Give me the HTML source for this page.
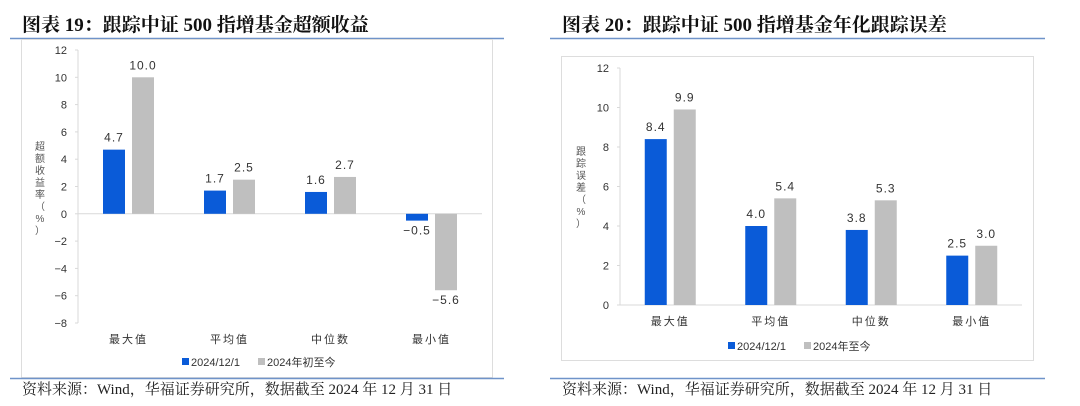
<!DOCTYPE html>
<html><head><meta charset="utf-8"><style>
body{margin:0;background:#fff;width:1080px;height:406px;overflow:hidden}
svg{display:block}
text{font-family:"Liberation Sans","Noto Sans CJK SC",sans-serif}
.t{font-family:"Liberation Serif","Noto Serif CJK SC",serif;font-weight:bold;font-size:19px;fill:#111}
.s{font-family:"Liberation Serif","Noto Serif CJK SC",serif;font-size:15px;fill:#222}
</style></head><body>
<svg id="c" width="1080" height="406">
<text class="t" x="22" y="31">图表 19：跟踪中证 500 指增基金超额收益</text>
<text class="t" x="562" y="31">图表 20：跟踪中证 500 指增基金年化跟踪误差</text>
<line x1="10" y1="38.5" x2="504" y2="38.5" stroke="#6f93c9" stroke-width="1.5"/>
<line x1="550" y1="38.5" x2="1045" y2="38.5" stroke="#6f93c9" stroke-width="1.5"/>
<rect x="21.5" y="39.5" width="471" height="338" fill="none" stroke="#ddd"/>
<rect x="561.5" y="56.5" width="472" height="304" fill="none" stroke="#ddd"/>
<line x1="10" y1="378.5" x2="504" y2="378.5" stroke="#6f93c9" stroke-width="1.5"/>
<line x1="550" y1="378.5" x2="1045" y2="378.5" stroke="#6f93c9" stroke-width="1.5"/>
<text class="s" x="22" y="394">资料来源：Wind，华福证券研究所，数据截至 2024 年 12 月 31 日</text>
<text class="s" x="562" y="394">资料来源：Wind，华福证券研究所，数据截至 2024 年 12 月 31 日</text>
</svg>
<script>
const categories=["最大值","平均值","中位数","最小值"];
const leftSeriesA=[4.7,1.7,1.6,-0.5];
const leftSeriesB=[10.0,2.5,2.7,-5.6];
const leftTicks=[12,10,8,6,4,2,0,-2,-4,-6,-8];
const rightSeriesA=[8.4,4.0,3.8,2.5];
const rightSeriesB=[9.9,5.4,5.3,3.0];
const rightTicks=[12,10,8,6,4,2,0];
const legendLeft=["2024/12/1","2024年初至今"];
const legendRight=["2024/12/1","2024年至今"];
const NS="http://www.w3.org/2000/svg";
const svg=document.getElementById('c');
function mk(tag,attrs,txt){const e=document.createElementNS(NS,tag);for(const k in attrs)e.setAttribute(k,attrs[k]);if(txt!=null)e.textContent=txt;svg.appendChild(e);return e;}
function chart(p,A,B,ticks,leg,yTitle){
  const min=Math.min(...ticks),max=Math.max(...ticks);
  const y=v=>p.top+(max-v)/(max-min)*(p.bottom-p.top);
  const step=(p.right-p.axisX)/categories.length;
  const xc=i=>p.axisX+step*(i+0.5);
  let e=mk('line',{x1:p.axisX,y1:y(max),x2:p.axisX,y2:y(min),stroke:'#d9d9d9'});
  
  
  e=mk('line',{x1:p.axisX,y1:y(0),x2:p.right,y2:y(0),stroke:'#d9d9d9'});
  
  
  ticks.forEach(t=>{
    let l=mk('line',{x1:p.axisX-3,y1:y(t),x2:p.axisX,y2:y(t),stroke:'#d9d9d9'});
    
    
    let tx=mk('text',{x:p.axisX-11,y:y(t)+4,'text-anchor':'end','font-size':11,fill:'#333'},t<0?'\u2212'+(-t):String(t));
    
    
  });
  const cols=['#0a5bd8','#bfbfbf'];
  [A,B].forEach((S,si)=>{
    S.forEach((v,i)=>{
      const cx=xc(i)+(si===0?-14.5:14.5);
      const y0=y(0),yv=y(v);
      let r=mk('rect',{x:cx-11,y:Math.min(y0,yv),width:22,height:Math.abs(yv-y0),fill:cols[si]});
      
      
      const ly=v>=0?yv-8:yv+14;
      let t=mk('text',{x:cx,y:ly,'text-anchor':'middle','font-size':12,fill:'#333','letter-spacing':'1'},(v<0?'\u2212':'')+Math.abs(v).toFixed(1));
      
      
    });
  });
  categories.forEach((c,i)=>{
    let t=mk('text',{x:xc(i),y:p.catY,'text-anchor':'middle','font-size':11,fill:'#333','letter-spacing':'2'},c);
    
    
  });
  // y title vertical
  const chars=yTitle.split('');
  chars.forEach((ch,k)=>{
    let t=mk('text',{x:p.titleX,y:p.titleY+k*12,'text-anchor':'middle','font-size':10,fill:'#555'},ch);
    
    
  });
  let lx=p.legX;
  leg.forEach((s,k)=>{
    let r=mk('rect',{x:lx,y:p.legY-8,width:7,height:7,fill:cols[k]});
    
    
    let t=mk('text',{x:lx+9,y:p.legY,'font-size':11,fill:'#333'},s);
    
    
    lx+=p.legGap;
  });
}
chart({id:'left',axisX:78,right:482,top:50,bottom:323,catY:343,titleX:40,titleY:150,legX:182,legY:366,legGap:76},leftSeriesA,leftSeriesB,leftTicks,legendLeft,"超额收益率（%）");
chart({id:'right',axisX:620,right:1022,top:68,bottom:305,catY:325,titleX:581,titleY:155,legX:728,legY:350,legGap:76},rightSeriesA,rightSeriesB,rightTicks,legendRight,"跟踪误差（%）");
</script>
</body></html>
